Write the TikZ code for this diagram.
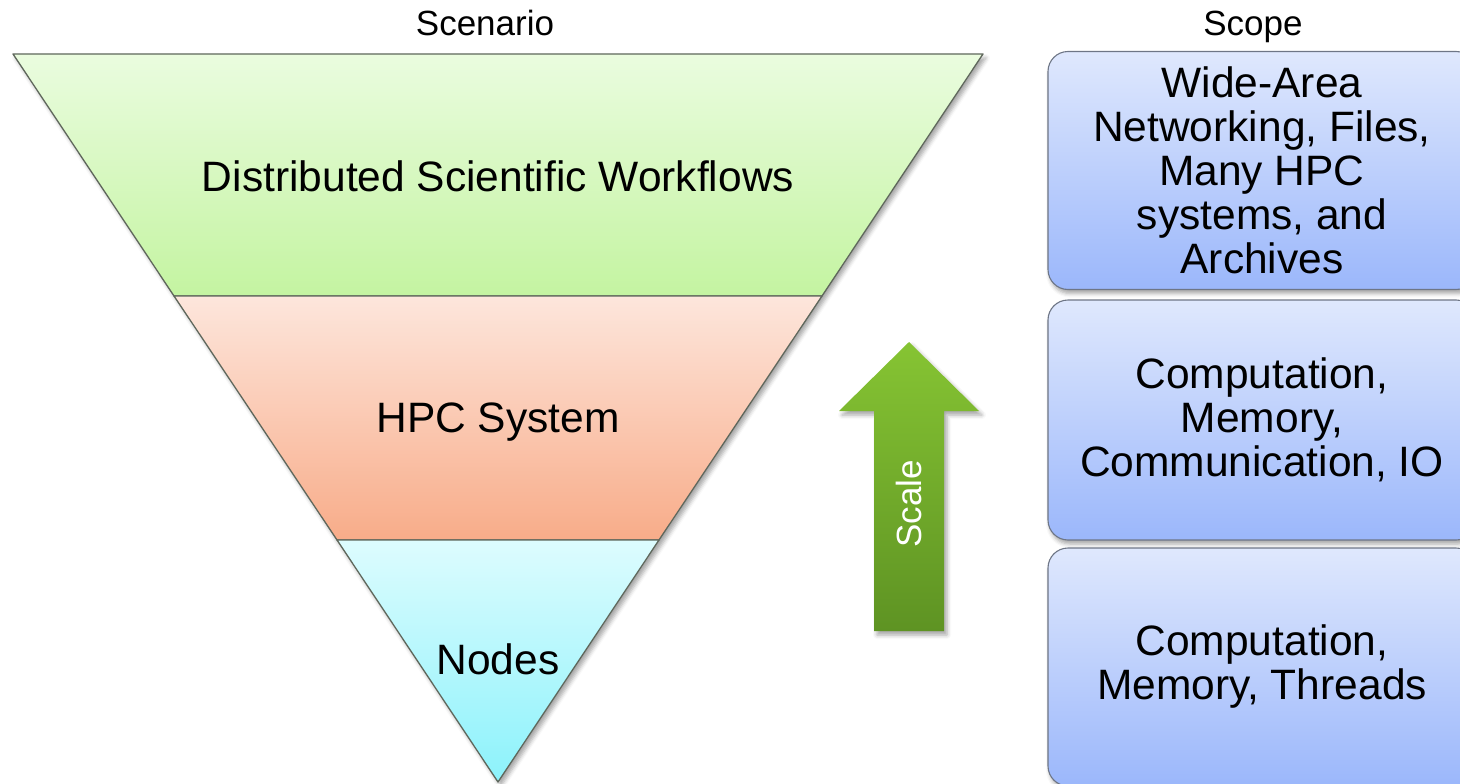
\documentclass[tikz,border=0pt]{standalone}
\usepackage{fontspec}
\setmainfont{Liberation Sans}
\usetikzlibrary{shadows.blur}

\definecolor{wfTop}{HTML}{EAFCDF}
\definecolor{wfBot}{HTML}{C4F4A1}
\definecolor{hpcTop}{HTML}{FDE6DC}
\definecolor{hpcBot}{HTML}{F8AC89}
\definecolor{ndTop}{HTML}{DDFCFE}
\definecolor{ndBot}{HTML}{8CF2FB}
\definecolor{boxTop}{HTML}{DFE8FD}
\definecolor{boxBot}{HTML}{9BB7FB}
\definecolor{boxEdge}{HTML}{6E7686}
\definecolor{triEdge}{HTML}{5F675C}
\definecolor{arrTop}{HTML}{86C433}
\definecolor{arrBot}{HTML}{5E9323}

\begin{document}
\begin{tikzpicture}[x=1pt,y=-1pt,
  band/.style={draw=triEdge, line width=1.3pt, line join=round},
  bigtext/.style={font=\fontsize{42.5}{44}\selectfont, inner sep=0pt, anchor=base},
  headtext/.style={font=\fontsize{35}{40}\selectfont, inner sep=0pt, anchor=base},
  scopebox/.style={draw=boxEdge, line width=1.1pt, rounded corners=20pt,
    top color=boxTop, bottom color=boxBot, minimum width=428pt,
    align=center, font=\fontsize{42.5}{44}\selectfont,
    blur shadow={shadow xshift=2pt, shadow yshift=-4pt,
      shadow blur radius=4pt, shadow opacity=35}},
  softshadow/.style={blur shadow={shadow xshift=3pt, shadow yshift=-4pt,
      shadow blur radius=4pt, shadow opacity=35}}
]
\useasboundingbox (0,0) rectangle (1460,784);
\clip (0,0) rectangle (1460,784);

% corner points of the inverted triangle and its band boundaries
\coordinate (tl) at (13,54);
\coordinate (tr) at (983,54);
\coordinate (ml) at (174,296);
\coordinate (mr) at (822,296);
\coordinate (ll) at (337,540);
\coordinate (lr) at (659,540);
\coordinate (apex) at (498,782);

% shadow of the whole triangle
\fill[white, softshadow] (tl) -- (tr) -- (apex) -- cycle;

% three bands
\shade[band, top color=wfTop, bottom color=wfBot] (tl) -- (tr) -- (mr) -- (ml) -- cycle;
\shade[band, top color=hpcTop, bottom color=hpcBot] (ml) -- (mr) -- (lr) -- (ll) -- cycle;
\shade[band, top color=ndTop, bottom color=ndBot] (ll) -- (lr) -- (apex) -- cycle;

\node[bigtext] (wf) at (498,191) {Distributed Scientific Workflows};
\node[bigtext] (hpc) at (498,432) {HPC System};
\node[bigtext] (nodes) at (498,674) {Nodes};

% column headings
\node[headtext] (scenario) at (485,36) {Scenario};
\node[headtext] (scope) at (1253,36) {Scope};

% upward scale arrow
\shade[top color=arrTop, bottom color=arrBot, softshadow]
  (909,342) -- (979,411) -- (944,411) -- (944,631) -- (874,631)
  -- (874,411) -- (839,411) -- cycle;
\node[font=\fontsize{35}{40}\selectfont, inner sep=0pt, text=white, rotate=90]
  (scale) at (909,504) {Scale};

% scope boxes
\node[scopebox, minimum height=238pt] (wan) at (1262,170.5)
  {Wide-Area\\Networking, Files,\\Many HPC\\systems, and\\Archives};
\node[scopebox, minimum height=240pt] (sys) at (1262,420)
  {Computation,\\Memory,\\Communication, IO};
\node[scopebox, minimum height=238pt] (node) at (1262,667)
  {Computation,\\Memory, Threads};
\end{tikzpicture}
\end{document}
